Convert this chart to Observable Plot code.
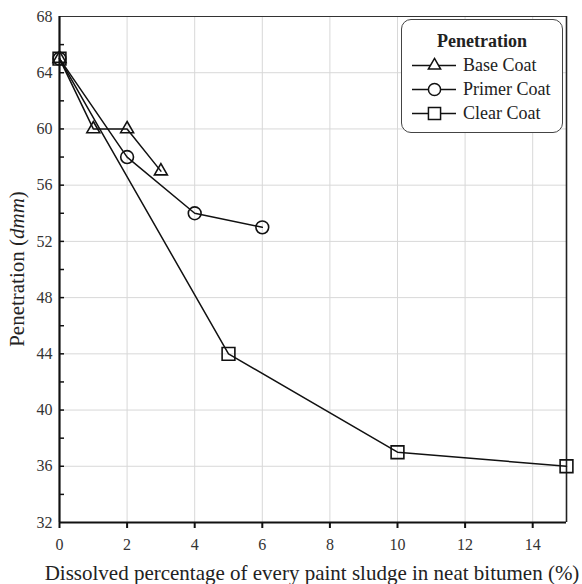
<!DOCTYPE html>
<html><head><meta charset="utf-8">
<script src="https://cdn.jsdelivr.net/npm/d3@7"></script>
<script src="https://cdn.jsdelivr.net/npm/@observablehq/plot@0.6"></script>
<style>
body{margin:0;background:#fff;}
#wrap{position:relative;width:582px;height:584px;font-family:"Liberation Serif","Times New Roman",serif;color:#222;}
#legend{position:absolute;left:401px;top:19px;width:162px;height:114px;border:1.3px solid #444;border-radius:10px;background:#fff;box-sizing:border-box;}
#legend .t{position:absolute;left:0;width:100%;top:10px;text-align:center;font-weight:bold;font-size:18px;line-height:22px;}
#legend .e{position:absolute;left:10px;width:150px;height:22px;font-size:18px;line-height:22px;}
#legend .e svg{position:absolute;left:0;top:0;max-width:none;}
#legend .e span{position:absolute;left:51px;white-space:nowrap;}
</style></head>
<body><div id="wrap"><div id="chart"></div><div id="legend"></div></div>
<script>
const seriesNames = ["Base Coat","Primer Coat","Clear Coat"];
const symbols = ["triangle","circle","square"];
const baseX = [0,1,2,3];
const baseY = [65,60,60,57];
const primerX = [0,2,4,6];
const primerY = [65,58,54,53];
const clearX = [0,5,10,15];
const clearY = [65,44,37,36];
const xTicks = [0,2,4,6,8,10,12,14];
const yTicks = [32,36,40,44,48,52,56,60,64,68];
const yMinor = [34,36,38,40,42,44,46,48,50,52,54,56,58,60,62,64,66];
const xLabel = "Dissolved percentage of every paint sludge in neat bitumen (%)";
const FONT = "'Liberation Serif', 'Times New Roman', serif";

const rows = [];
[[baseX,baseY],[primerX,primerY],[clearX,clearY]].forEach(([xs,ys],i)=>{
  xs.forEach((x,j)=>rows.push({series:seriesNames[i],symbol:symbols[i],x,y:ys[j]}));
});
const rSize = {triangle:4.8,circle:6.4,square:7.2};

const plot = Plot.plot({
  width:582, height:584,
  marginLeft:59, marginRight:16, marginTop:16, marginBottom:62,
  style:{fontFamily:FONT,fontSize:"16px",color:"#222",background:"#fff"},
  x:{domain:[0,15],label:null},
  y:{domain:[32,68],label:null},
  marks:[
    Plot.gridX(xTicks.filter(d=>d>0),{stroke:"#d8d8d8",strokeOpacity:1,strokeWidth:1}),
    Plot.gridY(yTicks.filter(d=>d>32&&d<68),{stroke:"#d8d8d8",strokeOpacity:1,strokeWidth:1}),
    Plot.ruleY([68],{stroke:"#333",strokeWidth:1}),
    Plot.ruleX([15],{stroke:"#222",strokeWidth:1.6}),
    Plot.axisY({ticks:yMinor,tickSize:-5,text:null,stroke:"#111",strokeWidth:1.5}),
    Plot.axisY({ticks:yTicks,tickSize:0,tickPadding:7,fontSize:16,fontFamily:FONT,fill:"#333"}),
    Plot.axisX({ticks:xTicks,tickSize:6,tickPadding:10,fontSize:16,fontFamily:FONT,fill:"#333",stroke:"#111",strokeWidth:2}),
    Plot.ruleX([0],{stroke:"#111",strokeWidth:2.2}),
    Plot.ruleY([32],{stroke:"#111",strokeWidth:2.2}),
    Plot.line(rows,{x:"x",y:"y",z:"series",stroke:"#111",strokeWidth:1.5}),
    ...symbols.map(s=>Plot.dot(rows.filter(d=>d.symbol===s),{x:"x",y:"y",symbol:()=>s,r:rSize[s],stroke:"#111",strokeWidth:1.6,fill:"none"}))
  ]
});
document.getElementById("chart").appendChild(plot);

const svg = d3.select(plot);
svg.selectAll("text").style("font-family",FONT);
// x-axis label
svg.append("text").attr("x",312).attr("y",580).attr("text-anchor","middle")
  .attr("font-size","21px").attr("fill","#222").style("font-family",FONT).text(xLabel);
// y-axis label with italic unit
const yl = svg.append("text")
  .attr("transform","translate(24,269) rotate(-90)")
  .attr("text-anchor","middle")
  .attr("font-size","21px").attr("fill","#222").style("font-family",FONT);
yl.append("tspan").text("Penetration (");
yl.append("tspan").attr("font-style","italic").text("dmm");
yl.append("tspan").text(")");

// legend
const lg = document.getElementById("legend");
const t = document.createElement("div"); t.className="t"; t.textContent="Penetration"; lg.appendChild(t);
seriesNames.forEach((name,i)=>{
  const e = document.createElement("div"); e.className="e"; e.style.top=(34+i*24)+"px";
  const ls = Plot.plot({width:44,height:22,margin:0,x:{domain:[0,1],axis:null},y:{domain:[0,1],axis:null},
    style:{background:"transparent",maxWidth:"none"},
    marks:[Plot.ruleY([0.5],{stroke:"#111",strokeWidth:1.5}),
           Plot.dot([{x:0.5,y:0.5}],{x:"x",y:"y",symbol:()=>symbols[i],r:rSize[symbols[i]]*0.95,stroke:"#111",strokeWidth:1.5,fill:"#fff"})]});
  e.appendChild(ls);
  const sp=document.createElement("span"); sp.textContent=name; e.appendChild(sp);
  lg.appendChild(e);
});
</script></body></html>
